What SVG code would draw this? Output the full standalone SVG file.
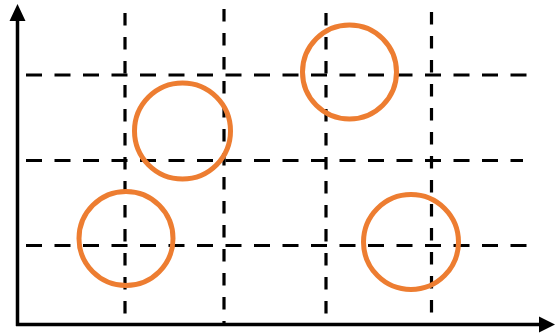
<svg xmlns="http://www.w3.org/2000/svg" width="555" height="335" viewBox="0 0 555 335">
  <style>
    .h { stroke: #000; stroke-width: 3.2; stroke-dasharray: 16 12.5; fill: none; }
    .v { stroke: #000; stroke-width: 3.2; stroke-dasharray: 12.5 11.5; fill: none; }
    .axis { stroke: #000; stroke-width: 3.5; fill: none; }
    .c { fill: none; stroke: #ED7D31; stroke-width: 5; }
  </style>
  <rect width="555" height="335" fill="#fff"/>
  <g id="grid">
    <line class="h" x1="26" y1="75" x2="531" y2="75"/>
    <line class="h" x1="26" y1="160.5" x2="523" y2="160.5"/>
    <line class="h" x1="26" y1="245.5" x2="531" y2="245.5"/>
    <line class="v" x1="125" y1="13" x2="125" y2="323"/>
    <line class="v" x1="224" y1="9" x2="224" y2="323"/>
    <line class="v" x1="326" y1="13" x2="326" y2="323"/>
    <line class="v" x1="431.5" y1="12" x2="431.5" y2="323"/>
  </g>
  <g id="axes">
    <line class="axis" x1="17.5" y1="326" x2="17.5" y2="18"/>
    <polygon points="17.5,4 9.5,21 25.5,21" fill="#000"/>
    <line class="axis" x1="16" y1="324.5" x2="541" y2="324.5"/>
    <polygon points="555,324.5 539,316.5 539,332.5" fill="#000"/>
  </g>
  <g id="circle1"><circle class="c" cx="126" cy="238.5" r="47"/></g>
  <g id="circle2"><circle class="c" cx="182.5" cy="131" r="48"/></g>
  <g id="circle3"><circle class="c" cx="349.5" cy="72" r="47"/></g>
  <g id="circle4"><circle class="c" cx="411" cy="242" r="47.5"/></g>
</svg>
